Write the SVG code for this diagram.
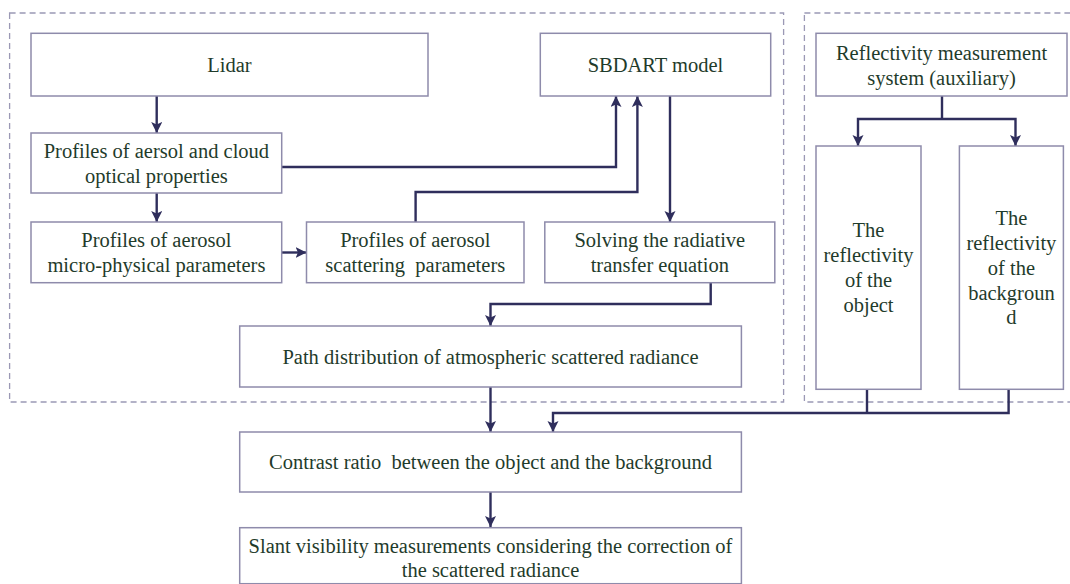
<svg xmlns="http://www.w3.org/2000/svg" width="1070" height="584" viewBox="0 0 1070 584">
<style>
.bg{fill:#ffffff}
.frame{fill:none;stroke:#9b99b5;stroke-width:1.3;stroke-dasharray:6 4}
.box{fill:#ffffff;stroke:#8e8bab;stroke-width:1.5}
.t{font-family:"Liberation Serif","Times New Roman",serif;font-size:20.5px;fill:#1f3b2b;text-anchor:middle;white-space:pre}
.c{fill:none;stroke:#2f2e5c;stroke-width:2.4}
.ca{fill:none;stroke:#2f2e5c;stroke-width:2.4;marker-end:url(#ah)}
</style>
<defs>
<marker id="ah" markerUnits="userSpaceOnUse" markerWidth="12" markerHeight="12" refX="11" refY="5.5" orient="auto">
<path d="M0,0 L11,5.5 L0,11 L2.5,5.5 Z" fill="#2f2e5c"/>
</marker>
</defs>
<rect class="bg" x="0" y="0" width="1070" height="584"/>
<g id="frames">
<rect class="frame" x="9.6" y="13" width="774" height="389"/>
<rect class="frame" x="804.4" y="13" width="280" height="389"/>
</g>
<g id="connectors">
<path class="ca" d="M156.7 96 V133"/>
<path class="ca" d="M156.7 193 V222"/>
<path class="ca" d="M282 252.5 H306.5"/>
<path class="ca" d="M282 167 H616 V96"/>
<path class="ca" d="M415.6 222 V192 H637.4 V96"/>
<path class="ca" d="M670 96 V222"/>
<path class="ca" d="M710.7 283 V304 H490.5 V326"/>
<path class="ca" d="M490.5 387 V432"/>
<path class="ca" d="M490.5 492 V527"/>
<path class="c" d="M942 96 V119"/>
<path class="ca" d="M942 119 H858 V146"/>
<path class="ca" d="M942 119 H1015.5 V146"/>
<path class="c" d="M867 389 V413"/>
<path class="ca" d="M1008.6 389 V413 H553 V432"/>
</g>
<g id="lidar">
<rect class="box" x="31" y="33.3" width="397" height="62.7"/>
<text class="t" x="229.5" y="72">Lidar</text>
</g>
<g id="sbdart">
<rect class="box" x="540.3" y="33.3" width="230.4" height="62.7"/>
<text class="t" x="655.5" y="72">SBDART model</text>
</g>
<g id="optical">
<rect class="box" x="31" y="133" width="250.7" height="60"/>
<text class="t" x="156.4" y="158">Profiles of aersol and cloud</text>
<text class="t" x="156.4" y="183">optical properties</text>
</g>
<g id="micro">
<rect class="box" x="31" y="222" width="250.7" height="60.7"/>
<text class="t" x="156.4" y="247">Profiles of aerosol</text>
<text class="t" x="156.4" y="272">micro-physical parameters</text>
</g>
<g id="scattering">
<rect class="box" x="306.5" y="222" width="217.5" height="60.7"/>
<text class="t" x="415.3" y="247">Profiles of aerosol</text>
<text class="t" x="415.3" y="272">scattering  parameters</text>
</g>
<g id="solving">
<rect class="box" x="544.8" y="222" width="230" height="60.7"/>
<text class="t" x="659.8" y="247">Solving the radiative</text>
<text class="t" x="659.8" y="272">transfer equation</text>
</g>
<g id="reflsys">
<rect class="box" x="816" y="33.3" width="251" height="62.7"/>
<text class="t" x="941.5" y="60">Reflectivity measurement</text>
<text class="t" x="941.5" y="84.5">system (auxiliary)</text>
</g>
<g id="object">
<rect class="box" x="816" y="146" width="105" height="243.3"/>
<text class="t" x="868.5" y="237">The</text>
<text class="t" x="868.5" y="262">reflectivity</text>
<text class="t" x="868.5" y="287">of the</text>
<text class="t" x="868.5" y="312">object</text>
</g>
<g id="background">
<rect class="box" x="959.4" y="146" width="104" height="243.3"/>
<text class="t" x="1011.4" y="225">The</text>
<text class="t" x="1011.4" y="250">reflectivity</text>
<text class="t" x="1011.4" y="275">of the</text>
<text class="t" x="1011.4" y="300">backgroun</text>
<text class="t" x="1011.4" y="324">d</text>
</g>
<g id="path">
<rect class="box" x="239.7" y="326" width="501.7" height="61"/>
<text class="t" x="490.5" y="363.5">Path distribution of atmospheric scattered radiance</text>
</g>
<g id="contrast">
<rect class="box" x="239.7" y="432" width="501.7" height="60"/>
<text class="t" x="490.5" y="469">Contrast ratio  between the object and the background</text>
</g>
<g id="slant">
<rect class="box" x="239.7" y="527.7" width="501.7" height="56"/>
<text class="t" x="490.5" y="553">Slant visibility measurements considering the correction of</text>
<text class="t" x="490.5" y="577">the scattered radiance</text>
</g>
</svg>
